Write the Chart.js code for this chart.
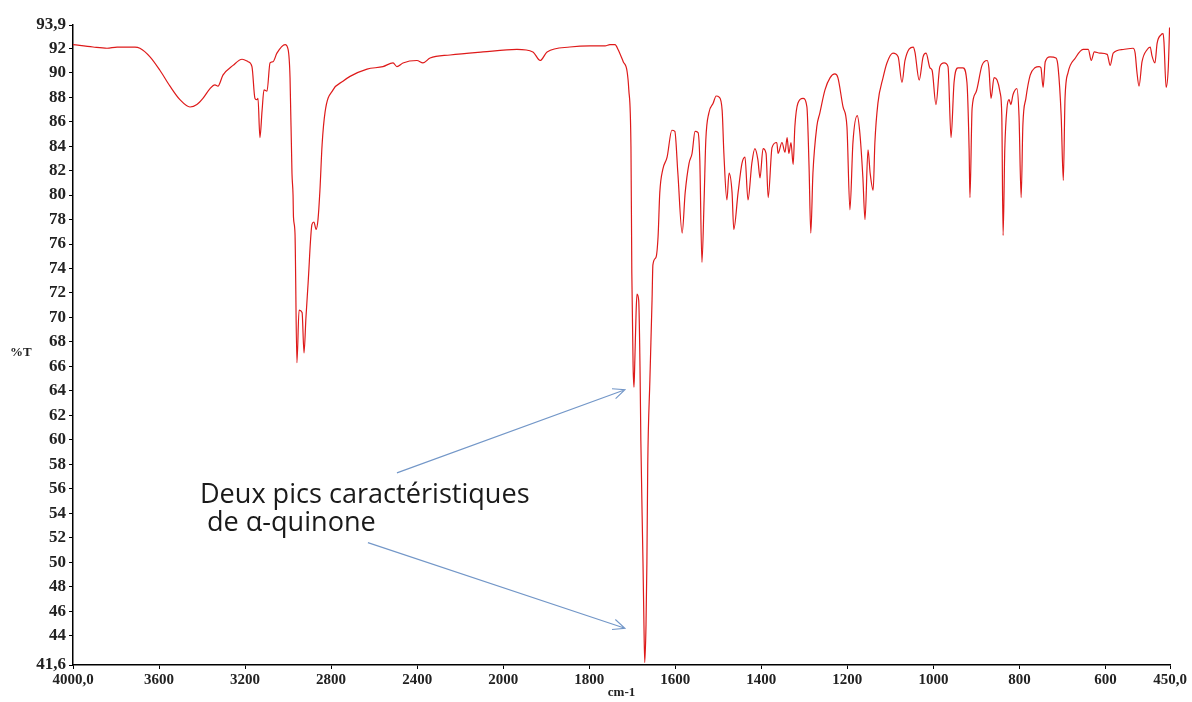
<!DOCTYPE html>
<html>
<head>
<meta charset="utf-8">
<script src="https://cdn.jsdelivr.net/npm/chart.js@4.4.1/dist/chart.umd.min.js"></script>
<style>
    html, body { margin: 0; padding: 0; background: #fff; }
    #wrap { width: 1192px; height: 702px; position: relative; }
</style>
</head>
<body>
<div id="wrap"><canvas id="spectre"></canvas></div>
<script>
var wavenumber = [
    4000, 3907, 3842, 3795, 3712, 3689, 3642, 3596, 3549, 3503, 3456, 3424, 3396, 3363, 3340, 3326,
    3303, 3256, 3214, 3186, 3168, 3154, 3145, 3140, 3131, 3121, 3112, 3098, 3084, 3070, 3052, 3014,
    3000, 2991, 2982, 2977, 2975, 2968, 2959, 2949, 2935, 2926, 2917, 2907, 2889, 2880, 2870, 2861,
    2852, 2842, 2828, 2791, 2745, 2712, 2633, 2559, 2512, 2494, 2466, 2401, 2373, 2340, 2247, 2094,
    1968, 1931, 1914, 1898, 1845, 1798, 1763, 1752, 1740, 1733, 1721, 1712, 1708, 1703, 1701, 1698,
    1696, 1694, 1691, 1689, 1685, 1682, 1680, 1675, 1673, 1671, 1668, 1666, 1664, 1659, 1654, 1652,
    1645, 1640, 1636, 1629, 1619, 1608, 1601, 1594, 1584, 1577, 1568, 1561, 1554, 1547, 1543, 1538,
    1533, 1529, 1522, 1512, 1505, 1498, 1491, 1487, 1480, 1475, 1468, 1464, 1454, 1445, 1438, 1431,
    1422, 1415, 1408, 1403, 1396, 1389, 1384, 1375, 1364, 1361, 1352, 1345, 1340, 1336, 1331, 1326,
    1322, 1315, 1303, 1294, 1289, 1285, 1280, 1271, 1264, 1252, 1240, 1229, 1222, 1210, 1201, 1194,
    1187, 1177, 1171, 1164, 1159, 1152, 1147, 1140, 1136, 1129, 1117, 1108, 1094, 1082, 1073, 1066,
    1047, 1043, 1033, 1024, 1017, 1008, 1003, 994, 985, 975, 966, 959, 952, 943, 931, 922,
    917, 915, 910, 901, 887, 875, 871, 866, 859, 852, 845, 841, 838, 834, 829, 824,
    820, 815, 806, 801, 796, 792, 785, 775, 764, 754, 750, 745, 740, 729, 715, 710,
    703, 698, 694, 687, 670, 652, 640, 633, 626, 613, 596, 589, 582, 559, 536, 531,
    527, 522, 515, 503, 496, 492, 485, 480, 471, 466, 464, 459, 454, 451
];
var transmittance = [
    92.3, 92.1, 92.0, 92.1, 92.1, 92.0, 91.3, 90.2, 88.9, 87.8, 87.2, 87.4, 87.9, 88.7, 89.0, 88.9,
    89.8, 90.6, 91.1, 90.9, 90.5, 87.9, 87.8, 87.9, 84.7, 86.9, 88.6, 88.5, 90.8, 90.9, 91.6, 92.3,
    91.9, 89.6, 81.8, 80.0, 78.2, 76.9, 66.3, 70.6, 70.4, 67.1, 70.0, 72.8, 77.6, 77.8, 77.2, 78.0,
    80.4, 84.1, 86.8, 88.6, 89.3, 89.7, 90.3, 90.5, 90.8, 90.5, 90.8, 91.0, 90.8, 91.2, 91.45, 91.7,
    91.9, 91.7, 91.0, 91.7, 92.1, 92.2, 92.2, 92.3, 92.3, 91.9, 90.9, 90.1, 88.6, 83.9, 73.6, 66.0,
    64.3, 66.5, 70.5, 71.9, 71.4, 66.0, 59.9, 49.9, 45.3, 41.8, 44.9, 49.9, 57.9, 64.9, 71.4, 74.3,
    74.9, 76.6, 80.2, 82.1, 83.1, 85.3, 85.2, 81.8, 76.9, 80.2, 82.6, 83.4, 85.2, 85.1, 82.9, 74.5,
    79.6, 84.5, 86.7, 87.5, 88.1, 88.0, 86.9, 83.4, 79.6, 81.8, 80.2, 77.2, 80.2, 82.6, 83.1, 79.6,
    82.6, 83.8, 82.9, 81.4, 83.8, 83.4, 79.8, 83.9, 84.3, 83.4, 84.3, 83.5, 84.7, 83.4, 84.3, 82.5,
    85.6, 87.5, 87.9, 87.2, 82.3, 76.9, 81.8, 85.6, 86.7, 88.6, 89.6, 89.9, 89.6, 87.2, 85.6, 78.8,
    84.3, 86.5, 85.1, 81.5, 78.0, 83.7, 81.8, 80.4, 84.3, 87.5, 89.6, 90.8, 91.6, 91.3, 89.2, 91.0,
    92.1, 91.7, 89.4, 91.3, 91.6, 90.4, 90.2, 87.4, 90.5, 90.8, 90.5, 84.7, 89.2, 90.4, 90.4, 89.2,
    83.8, 79.8, 87.1, 88.4, 90.6, 91.0, 90.4, 87.9, 89.6, 89.4, 88.4, 86.5, 76.7, 83.8, 87.1, 87.8,
    87.4, 88.2, 88.7, 86.5, 79.8, 85.7, 87.9, 89.8, 90.4, 90.5, 90.4, 88.8, 90.9, 91.3, 91.2, 90.4,
    86.5, 81.2, 87.9, 90.0, 91.2, 91.9, 91.9, 91.0, 91.7, 91.6, 91.5, 90.6, 91.6, 91.9, 92.0, 91.6,
    90.1, 88.9, 90.9, 91.9, 92.1, 91.4, 90.8, 92.4, 93.1, 93.2, 92.5, 88.8, 90.4, 93.7
];

// graduations des axes
var xTickWavenumbers = [4000, 3600, 3200, 2800, 2400, 2000, 1800, 1600, 1400, 1200, 1000, 800, 600, 450];
var xTickLabels = ['4000,0', '3600', '3200', '2800', '2400', '2000', '1800', '1600', '1400', '1200', '1000', '800', '600', '450,0'];
var yTickValues = [41.6, 44, 46, 48, 50, 52, 54, 56, 58, 60, 62, 64, 66, 68, 70, 72, 74, 76, 78, 80, 82, 84, 86, 88, 90, 92, 93.9];
var yTickLabels = ['41,6', '44', '46', '48', '50', '52', '54', '56', '58', '60', '62', '64', '66', '68', '70', '72', '74', '76', '78', '80', '82', '84', '86', '88', '90', '92', '93,9'];

// annotation : fleches vers les deux pics (coordonnees en cm-1 / %T)
var annotationLines = ['Deux pics caractéristiques', ' de α-quinone'];
var annotationAnchor = { wn: 3410, t: 55.5 };
var arrows = [
    { fromWn: 2494, fromT: 57.3, toWn: 1717, toT: 64.1 },
    { fromWn: 2629, fromT: 51.6, toWn: 1717, toT: 44.6 }
];

// echelle de l'appareil : 400 cm-1 par graduation au-dessus de 2000, 200 en dessous
function toAxis(w) {
    if (w >= 2000) return (4000 - w) / 400;
    return 5 + (2000 - w) / 200;
}

var points = [];
wavenumber.forEach(function (w, i) {
    points.push({ x: toAxis(w), y: transmittance[i] });
});

var annotationPlugin = {
    id: 'annotation',
    afterDatasetsDraw: function (chart) {
        var ctx = chart.ctx;
        var xs = chart.scales.x;
        var ys = chart.scales.y;
        ctx.save();

        // %T horizontal a gauche
        ctx.font = 'bold 13px "Liberation Serif"';
        ctx.fillStyle = '#222';
        ctx.textAlign = 'left';
        ctx.textBaseline = 'middle';
        ctx.fillText('%T', 10, (chart.chartArea.top + chart.chartArea.bottom) / 2 + 8);

        // fleches
        ctx.strokeStyle = '#7397c8';
        ctx.lineWidth = 1.1;
        arrows.forEach(function (a) {
            var x1 = xs.getPixelForValue(toAxis(a.fromWn));
            var y1 = ys.getPixelForValue(a.fromT);
            var x2 = xs.getPixelForValue(toAxis(a.toWn));
            var y2 = ys.getPixelForValue(a.toT);
            var ang = Math.atan2(y2 - y1, x2 - x1);
            var len = 13, spread = 0.42;
            ctx.beginPath();
            ctx.moveTo(x1, y1);
            ctx.lineTo(x2, y2);
            ctx.moveTo(x2 - len * Math.cos(ang - spread), y2 - len * Math.sin(ang - spread));
            ctx.lineTo(x2, y2);
            ctx.lineTo(x2 - len * Math.cos(ang + spread), y2 - len * Math.sin(ang + spread));
            ctx.stroke();
        });

        // texte
        var tx = xs.getPixelForValue(toAxis(annotationAnchor.wn));
        var ty = ys.getPixelForValue(annotationAnchor.t);
        var size = 22;
        ctx.font = size + 'px "Open Sans"';
        var w = ctx.measureText(annotationLines[0]).width;
        size = size * 330 / w;
        ctx.font = size.toFixed(1) + 'px "Open Sans"';
        ctx.fillStyle = '#1a1a1a';
        ctx.textBaseline = 'middle';
        annotationLines.forEach(function (line, i) {
            ctx.fillText(line, tx, ty + i * 28);
        });
        ctx.restore();
    }
};

var ctx = document.getElementById('spectre').getContext('2d');
var spectre = new Chart(ctx, {
    type: 'line',
    data: {
        datasets: [{
            data: points,
            borderColor: '#de1a1a',
            borderWidth: 1.2,
            pointRadius: 0,
            cubicInterpolationMode: 'monotone',
            fill: false
        }]
    },
    options: {
        responsive: true,
        maintainAspectRatio: false,
        animation: false,
        layout: { padding: { left: 0, right: 22, top: 25, bottom: 0 } },
        plugins: { legend: { display: false }, tooltip: { enabled: false } },
        scales: {
            x: {
                type: 'linear',
                min: 0,
                max: toAxis(450),
                afterBuildTicks: function (scale) {
                    scale.ticks = xTickWavenumbers.map(function (w) { return { value: toAxis(w) }; });
                },
                afterFit: function (scale) {
                    scale.height = 37;
                    scale.paddingLeft = 0;
                    scale.paddingRight = 0;
                },
                ticks: {
                    autoSkip: false,
                    maxRotation: 0,
                    padding: 2,
                    color: '#222',
                    font: { family: 'Liberation Serif', weight: 'bold', size: 15 },
                    callback: function (value, index) { return xTickLabels[index]; }
                },
                grid: { drawOnChartArea: false, drawTicks: true, tickLength: 4, color: '#000' },
                border: { display: true, color: '#000', width: 1.5 },
                title: {
                    display: true,
                    text: 'cm-1',
                    color: '#222',
                    font: { family: 'Liberation Serif', weight: 'bold', size: 13 },
                    padding: { top: 0, bottom: 2 }
                }
            },
            y: {
                type: 'linear',
                min: 41.6,
                max: 93.9,
                afterBuildTicks: function (scale) {
                    scale.ticks = yTickValues.map(function (v) { return { value: v }; });
                },
                afterFit: function (scale) {
                    scale.width = 73;
                    scale.paddingTop = 0;
                    scale.paddingBottom = 0;
                },
                ticks: {
                    autoSkip: false,
                    padding: 3,
                    color: '#222',
                    font: { family: 'Liberation Serif', weight: 'bold', size: 17 },
                    callback: function (value, index) { return yTickLabels[index]; }
                },
                grid: { drawOnChartArea: false, drawTicks: true, tickLength: 4, color: '#000' },
                border: { display: true, color: '#000', width: 1.5 }
            }
        }
    },
    plugins: [annotationPlugin]
});
</script>
</body>
</html>
